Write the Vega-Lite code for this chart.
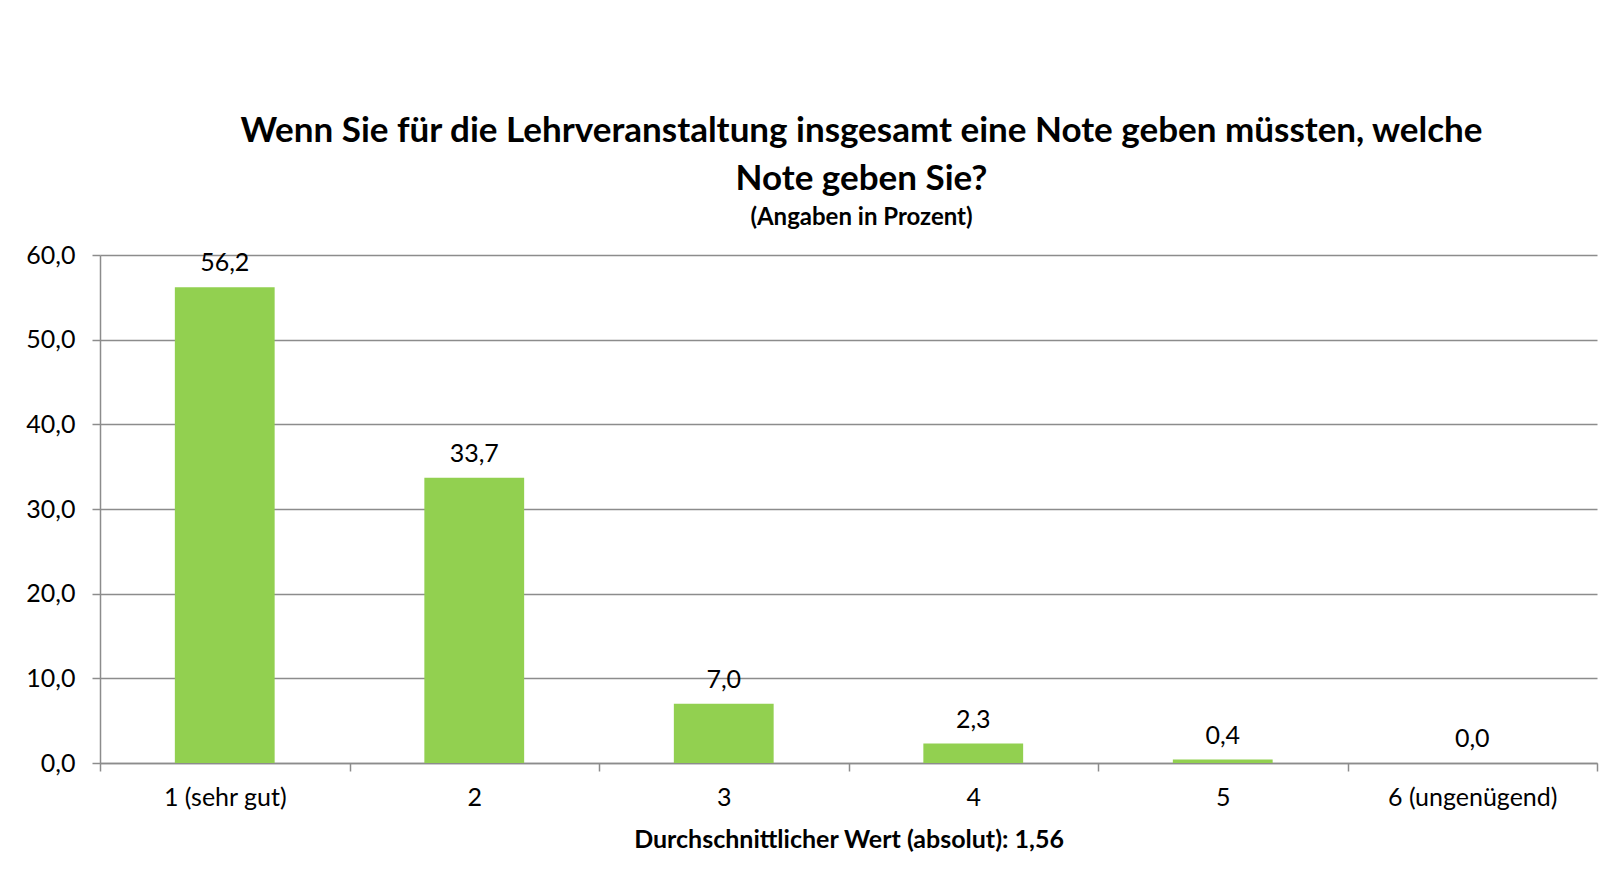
{
  "$schema": "https://vega.github.io/schema/vega-lite/v6.json",
  "autosize": {"type": "none"},
  "padding": {"left": 100, "top": 255, "right": 11, "bottom": 120},
  "width": 1497,
  "height": 508,
  "background": "white",
  "config": {
    "locale": {"number": {"decimal": ",", "thousands": ".", "grouping": [3], "currency": ["", " €"]}},
    "font": "Lato",
    "view": {"stroke": null}
  },
  "title": {
    "text": ["Wenn Sie für die Lehrveranstaltung insgesamt eine Note geben müssten, welche", "Note geben Sie?"],
    "subtitle": "(Angaben in Prozent)",
    "anchor": "middle",
    "frame": "group",
    "dx": 13,
    "font": "Lato",
    "fontSize": 35,
    "fontWeight": "bold",
    "lineHeight": 48,
    "color": "black",
    "subtitleFont": "Lato",
    "subtitleFontSize": 24,
    "subtitleFontWeight": "bold",
    "subtitleColor": "black",
    "subtitlePadding": 9,
    "offset": 13
  },
  "data": {
    "values": [
      {"note": "1 (sehr gut)", "prozent": 56.2},
      {"note": "2", "prozent": 33.7},
      {"note": "3", "prozent": 7.0},
      {"note": "4", "prozent": 2.3},
      {"note": "5", "prozent": 0.4},
      {"note": "6 (ungenügend)", "prozent": 0.0}
    ]
  },
  "encoding": {
    "x": {
      "field": "note",
      "type": "nominal",
      "sort": null,
      "scale": {"paddingInner": 0, "paddingOuter": 0},
      "axis": {
        "tickBand": "extent",
        "labelAngle": 0,
        "labelFont": "Lato",
        "labelFontSize": 25,
        "labelColor": "black",
        "labelPadding": 14,
        "tickSize": 8,
        "tickColor": "#8c8c8c",
        "tickWidth": 1.5,
        "domainColor": "#8c8c8c",
        "domainWidth": 1.5,
        "title": "Durchschnittlicher Wert (absolut): 1,56",
        "titleFont": "Lato",
        "titleFontSize": 25,
        "titleFontWeight": "bold",
        "titleColor": "black",
        "titlePadding": 17,
        "grid": false
      }
    },
    "y": {
      "field": "prozent",
      "type": "quantitative",
      "scale": {"domain": [0, 60], "nice": false},
      "axis": {
        "values": [0, 10, 20, 30, 40, 50, 60],
        "format": ".1f",
        "title": null,
        "grid": true,
        "gridColor": "#8c8c8c",
        "gridWidth": 1.5,
        "labelFont": "Lato",
        "labelFontSize": 25,
        "labelColor": "black",
        "labelPadding": 17,
        "tickSize": 8,
        "tickColor": "#8c8c8c",
        "tickWidth": 1.5,
        "domainColor": "#8c8c8c",
        "domainWidth": 1.5
      }
    }
  },
  "layer": [
    {"mark": {"type": "bar", "color": "#92D050", "width": {"band": 0.4}}},
    {
      "mark": {"type": "text", "baseline": "alphabetic", "dy": -16, "fontSize": 25, "font": "Lato", "color": "black"},
      "encoding": {"text": {"field": "prozent", "type": "quantitative", "format": ".1f"}}
    }
  ]
}
